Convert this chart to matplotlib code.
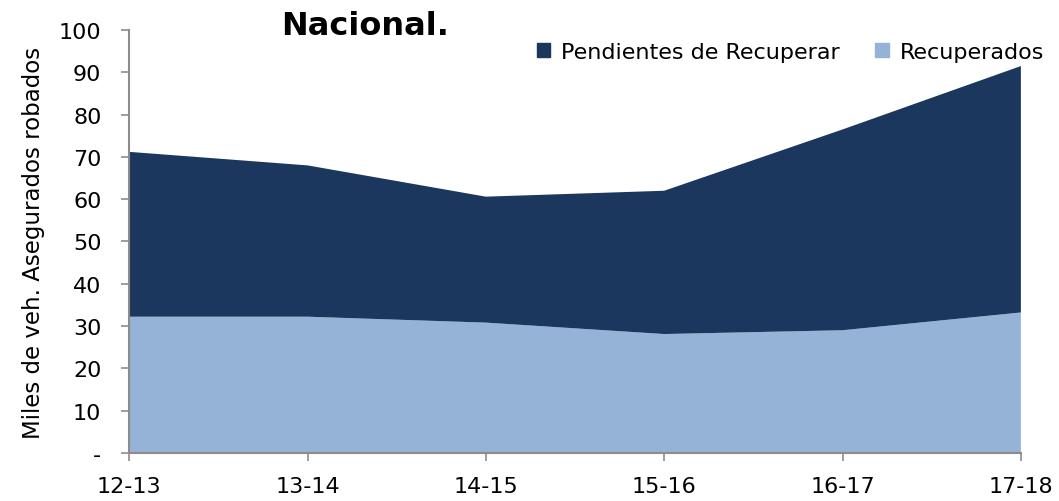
import numpy as np
import matplotlib
matplotlib.use('Agg')
import matplotlib.pyplot as plt
from matplotlib.patches import Patch

#Data
periodos = ['12-13', '13-14', '14-15', '15-16', '16-17', '17-18']
recuperados = [32.2, 32.2, 30.8, 28.1, 29.0, 33.2]
pendientes = [39.0, 35.8, 29.8, 33.9, 47.5, 58.3]

c_pend = '#1b375e'
c_rec = '#95b3d7'
gris = '#8c8c8c'

plt.rcParams['font.family'] = ['DejaVu Sans']

fig = plt.figure(figsize=(10.59, 5.02), dpi=100)
ax = fig.add_axes([0.122, 0.096, 0.842, 0.842])

x = np.arange(len(periodos))
ax.stackplot(x, recuperados, pendientes, colors=[c_rec, c_pend], linewidth=0)

ax.set_xlim(0, len(periodos) - 1)
ax.set_ylim(0, 100)
ax.set_xticks(x)
ax.set_xticklabels(periodos)
ax.set_yticks(np.arange(0, 101, 10))
ax.set_yticklabels(['-'] + [str(v) for v in range(10, 101, 10)])

# spines like the excel chart
ax.spines['top'].set_visible(False)
ax.spines['right'].set_visible(False)
ax.spines['left'].set_color(gris)
ax.spines['bottom'].set_color(gris)
ax.spines['left'].set_linewidth(1.5)
ax.spines['bottom'].set_linewidth(1.5)
ax.tick_params(axis='both', colors=gris, labelcolor='black', labelsize=16,
               direction='out', length=6, width=1.2)
ax.tick_params(axis='x', pad=11)
ax.tick_params(axis='y', pad=14)

ax.set_ylabel('Miles de veh. Asegurados robados', fontsize=16.5, labelpad=10)

fig.text(0.345, 0.947, 'Nacional.', fontsize=23, fontweight='bold',
         ha='center', va='center')

handles = [Patch(color=c_pend, label='Pendientes de Recuperar'),
           Patch(color=c_rec, label='Recuperados')]
fig.legend(handles=handles, loc='center right', bbox_to_anchor=(1.005, 0.895),
           ncol=2, frameon=False, fontsize=16, handlelength=0.6,
           handleheight=0.6, handletextpad=0.5, columnspacing=1.6)

plt.savefig('out.png', dpi=100)
